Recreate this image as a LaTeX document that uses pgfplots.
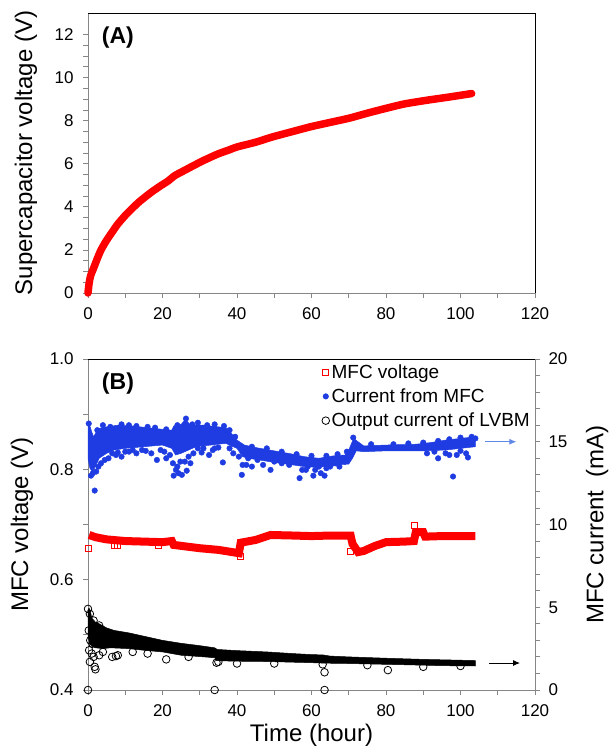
\documentclass[border=0pt]{standalone}
\usepackage{fontspec}
\setmainfont{Liberation Sans}
\usepackage{pgfplots}
\pgfplotsset{compat=1.18}
\usetikzlibrary{arrows.meta}

\definecolor{mred}{RGB}{255,0,0}
\definecolor{mblue}{RGB}{30,60,225}
\definecolor{arrblue}{RGB}{95,135,230}
\definecolor{axgray}{RGB}{134,134,134}

\pgfplotsset{
  base/.style={
    scale only axis, width=447pt, xmin=0, xmax=120, xtick={0,20,...,120}, minor x tick num=1,
    tick align=outside, major tick length=5pt, minor tick length=5pt,
    tick style={axgray, line width=0.8pt},
    axis line style={axgray, line width=0.9pt, -},
    ticklabel style={font=\fontsize{17}{20}\selectfont, black},
    xticklabel style={yshift=-6pt},
    /pgf/number format/assume math mode=true,
    label style={font=\fontsize{24}{28}\selectfont},
    clip=false,
  }
}

\begin{document}
\begin{tikzpicture}
\useasboundingbox (0,0) rectangle (611pt,756pt);

% ---------------- Panel A ----------------
\begin{axis}[base, at={(88pt,463pt)}, anchor=south west, height=280pt,
  ymin=0, ymax=13, ytick={0,2,...,12}, minor y tick num=3,
  yticklabel style={xshift=-6pt},
  axis x line*=bottom, axis y line*=left,
  ylabel={Supercapacitor voltage (V)},
  ylabel style={at={(axis description cs:-0.139,0.5)}, anchor=center},
]
\addplot[mred, line width=7.5pt, line cap=round, line join=round, smooth, tension=0.4] coordinates {
(0,0) (0.3,0.45) (0.7,0.8) (1.5,1.15) (2.5,1.6) (3.5,2.0) (5,2.45) (6.7,2.88) (8,3.2)
(10,3.6) (12,3.95) (14,4.27) (17,4.68) (19.7,5.0) (21.5,5.2) (23.3,5.45) (26,5.7)
(28.5,5.93) (31,6.15) (34.8,6.45) (38,6.65) (40,6.78) (45,7.0) (49.4,7.24) (55,7.5)
(59.8,7.72) (65,7.92) (70.2,8.12) (75,8.35) (80.6,8.6) (85,8.78) (91,8.95) (97,9.1) (103,9.26)
};
\draw[black, line width=0.9pt] (rel axis cs:0,1) -- (rel axis cs:1,1) -- (rel axis cs:1,0);
\node[font=\bfseries\fontsize{23}{26}\selectfont] at (rel axis cs:0.067,0.914) {(A)};
\end{axis}

% ---------------- Panel B, left axis ----------------
\begin{axis}[base, at={(88pt,66pt)}, anchor=south west, height=331pt,
  ymin=0.4, ymax=1.0, ytick={0.4,0.6,0.8,1.0}, minor y tick num=1,
  yticklabel style={xshift=-6pt, /pgf/number format/.cd, fixed, fixed zerofill, precision=1},
  axis x line*=bottom, axis y line*=left,
  xlabel={Time (hour)}, ylabel={MFC voltage (V)},
  xlabel style={at={(axis description cs:0.5,-0.136)}, anchor=center},
  ylabel style={at={(axis description cs:-0.148,0.5)}, anchor=center},
]
\addplot[mred, line width=8pt, line join=miter] coordinates {
(0.3,0.681) (2,0.677) (5,0.673) (10,0.670) (15,0.669) (20,0.668) (22.5,0.670) (23,0.663)
(30,0.657) (35,0.654) (40.5,0.648) (41,0.667) (45,0.672) (49,0.681) (55,0.680) (60,0.679)
(65,0.680) (70.5,0.680) (71,0.665) (72.5,0.650) (74,0.652) (77,0.661) (80,0.668) (85,0.669)
(87.5,0.670) (88,0.686) (90,0.686) (90.5,0.678) (95,0.679) (104,0.679)
};
\addplot[only marks, mark=square, mark size=3pt, mred, line width=0.8pt] coordinates {
(0,0.656) (7,0.663) (8,0.663) (19,0.662) (41,0.643) (70.5,0.652) (87.5,0.699)
};
\draw[black, line width=0.9pt] (rel axis cs:0,1) -- (rel axis cs:1,1);
\node[font=\bfseries\fontsize{23}{26}\selectfont] at (rel axis cs:0.067,0.926) {(B)};
\end{axis}

% ---------------- Panel B, right axis ----------------
\begin{axis}[base, at={(88pt,66pt)}, anchor=south west, height=331pt,
  ymin=0, ymax=20, ytick={0,5,...,20}, minor y tick num=4,
  yticklabel style={xshift=5pt},
  axis y line*=right, axis x line=none,
  ylabel={MFC current\ \ (mA)},
  ylabel style={at={(axis description cs:1.139,0.5)}, anchor=center},
  legend style={at={(axis description cs:0.523,0.99)}, anchor=north west, draw=none, fill=none,
    font=\fontsize{19}{23}\selectfont, inner sep=0pt, row sep=5pt},
  legend cell align=left,
]
% Current from MFC (band + scattered points)
\addplot[mblue, fill=mblue, line width=0.5pt, forget plot] coordinates {
(0,16.0) (0.3,16.1) (1,15.6) (1.5,15.3) (2,15.5) (3,15.8) (5,15.9) (8,16.0) (12,15.95)
(16,15.85) (20,15.75) (22.5,15.7) (23,15.95) (25,16.05) (26.2,16.35) (27.5,16.0) (31,16.0)
(35,15.9) (37,15.85) (38.5,15.5) (40,15.1) (42,14.8) (45,14.65) (50,14.45) (55,14.25)
(58,14.1) (62,14.0) (66,14.15) (69,14.2) (70,14.5) (71.3,15.2) (72.5,15.0) (74,14.75)
(80,14.8) (88,14.85) (92,14.95) (96,15.1) (100,15.2) (104,15.3)
(104,14.7) (100,14.6) (96,14.5) (90,14.45) (80,14.45) (74,14.4) (72,14.45) (71,14.0)
(70,13.65) (66,13.6) (62,13.45) (58,13.5) (55,13.6) (50,13.75) (46,13.9) (43,14.0)
(41.5,14.1) (40,14.6) (37,14.9) (33,14.8) (29,14.7) (27,14.5) (25,14.3) (23.5,14.2)
(22.5,14.6) (20,14.8) (15,14.7) (10,14.6) (7,14.5) (5,14.3) (3,14.0) (2,13.5)
(1.2,13.2) (0.5,13.4) (0,14.0)
} -- cycle;
\addplot[only marks, mark=*, mark size=2.8pt, mblue, forget plot] coordinates {
(1.8,12.05) (0.8,12.95) (1.3,13.1) (2.2,13.2) (2.8,13.5) (3.5,13.7) (4.5,13.9) (5.5,14.0)
(6.5,14.3) (7.5,14.2) (9,14.1) (11,14.4) (13,14.3) (14.5,14.5) (17,14.3) (18.5,13.9)
(20.5,14.4) (21,14.0) (23,12.95) (23.6,13.3) (24.3,13.1) (25.2,13.0) (26.5,13.25)
(27.5,13.7) (28.3,14.3) (29.5,14.6) (30.5,14.35) (32.5,14.2) (34,14.6) (36.2,13.75)
(41.3,13.0) (42.5,13.6) (44,13.5) (47,13.6) (49,13.3) (52,13.7) (54,13.6) (56.8,12.8)
(58.5,13.3) (60.5,12.95) (62.5,13.1) (63.5,12.95) (65,13.5) (66.5,13.7) (68,13.9)
(91,14.3) (94,14.0) (97,14.2) (98,12.9) (99,14.2) (101.5,14.3) (102,14.05)
(0.2,16.1) (2.5,15.7) (4,16.0) (6,15.9) (9,16.05) (11,16.0) (13,15.95) (16,15.9)
(18,15.85) (21,15.75) (24,16.0) (26.3,16.4) (28,16.05) (29.5,16.15) (32,16.0) (34,16.05)
(36.5,15.95) (38,15.7) (39.5,15.3) (44,14.7) (48,14.6) (52,14.4) (56,14.25) (60,14.15)
(64,14.15) (67,14.25) (69.5,14.4) (71.2,15.25) (76,14.85) (82,14.85) (86,14.9) (90,14.95)
(94,15.05) (97,15.15) (100,15.25) (103,15.3) (104,15.2)
(1,14.0) (3.2,14.3) (4,14.6) (8,14.35) (10,14.4) (12,14.5) (15.5,14.45) (19.5,14.5)
(22,14.2) (22.8,13.7) (24,13.5) (24.8,13.8) (26,13.8) (27,14.1) (31,14.6) (33.5,14.5)
(35,14.65) (38,14.6) (39,14.3) (40.5,14.1) (41.5,13.6) (43,14.0) (45.5,13.9) (50,13.8)
(53,13.9) (57.5,13.3) (59,13.5) (61,13.3) (62,13.5) (64,13.4) (66,13.7) (67.5,13.5)
(69,13.8) (93,14.4) (96,14.3) (100,14.45)
};
% Output current of LVBM (band + scattered points)
\addplot[black, fill=black, line width=0.5pt, forget plot] coordinates {
(0,4.85) (0.3,4.95) (0.7,4.7) (1,4.35) (2,4.1) (3,4.0) (5,3.75) (7,3.6) (11,3.45)
(15,3.25) (20,3.0) (25,2.82) (30,2.68) (34,2.55) (34.7,2.45) (40,2.38) (48,2.3)
(55,2.2) (60,2.14) (63,2.12) (65,2.05) (70,2.0) (80,1.92) (90,1.85) (104,1.78)
(104,1.45) (95,1.47) (90,1.5) (80,1.55) (70,1.6) (64,1.62) (60,1.65) (48,1.72)
(40,1.74) (36,1.76) (34.5,1.78) (34,1.95) (30,2.02) (25,2.1) (20,2.3) (15,2.4)
(11,2.5) (6,2.55) (4,2.5) (2,2.55) (1,2.65) (0.4,2.8) (0,3.3)
} -- cycle;
\addplot[only marks, mark=o, mark size=3.8pt, black, line width=0.8pt, forget plot] coordinates {
(0,0) (34,0) (63.5,0) (63.5,1.07) (80.5,1.2) (0.5,1.7) (1.8,1.4) (2,1.25) (0.3,2.4)
(1,2.2) (1.5,2.0) (3,2.1) (4,2.3) (6.5,2.0) (7.5,2.05) (8,2.1) (21,1.85) (34.5,1.65)
(35,1.7) (12,2.3) (16,2.2) (27,2.0) (40,1.6) (50,1.6) (63,1.55) (75,1.5) (90,1.4) (100,1.45)
(0,4.9) (0.5,4.6) (1.5,4.2) (3,3.9) (0.2,3.6) (0.6,3.0) (1.2,2.8)
};
\draw[arrblue, line width=1pt, -{Latex[length=7pt,width=6pt]}] (axis cs:106.6,15) -- (axis cs:115,15);
\draw[black, line width=1pt, -{Latex[length=7pt,width=6pt]}] (axis cs:107.7,1.63) -- (axis cs:116,1.63);

\addlegendimage{only marks, mark=square, mark size=3pt, mred, line width=0.8pt}
\addlegendentry{MFC voltage}
\addlegendimage{only marks, mark=*, mark size=2.8pt, mblue}
\addlegendentry{Current from MFC}
\addlegendimage{only marks, mark=o, mark size=3.8pt, black, line width=0.8pt}
\addlegendentry{Output current of LVBM}
\end{axis}
\end{tikzpicture}
\end{document}
